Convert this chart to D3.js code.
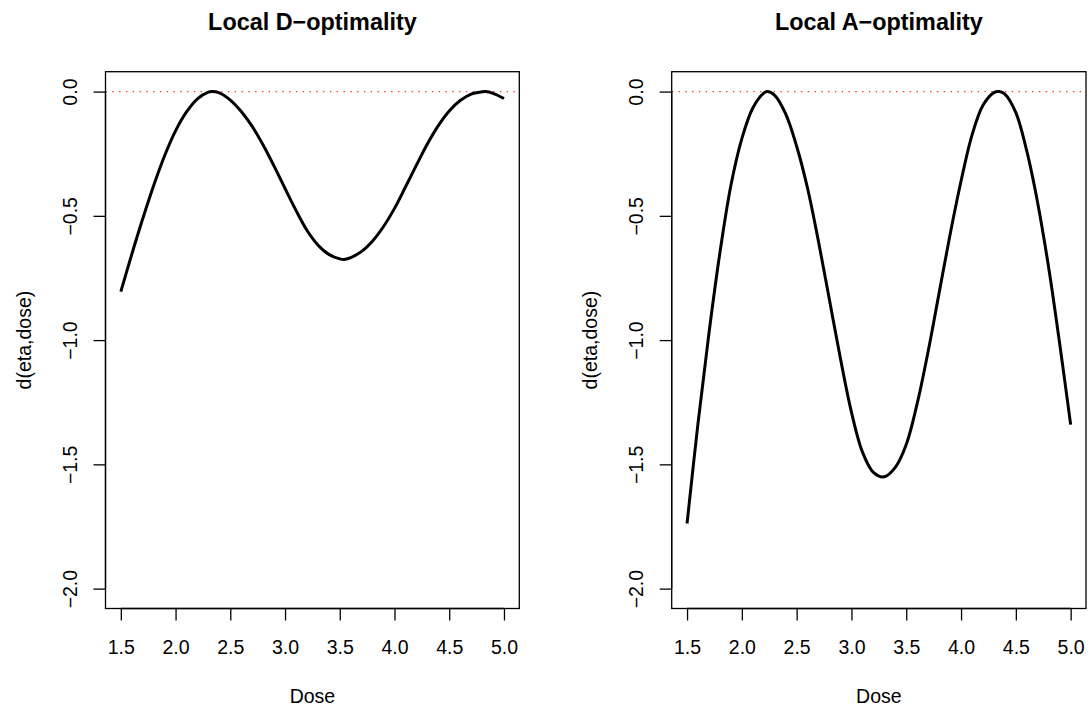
<!DOCTYPE html>
<html>
<head>
<meta charset="utf-8">
<script src="https://cdn.jsdelivr.net/npm/d3@7"></script>
<style>
  html, body { margin: 0; padding: 0; background: #fff; }
  svg { display: block; font-family: "Liberation Sans", Arial, Helvetica, sans-serif; }
</style>
</head>
<body>
<svg id="chart" width="1091" height="711"></svg>
<script>
// ---- data ----
const doseD = [1.5, 1.6, 1.7, 1.8, 1.9, 2.0, 2.1, 2.2, 2.3, 2.33, 2.4, 2.5, 2.6, 2.7, 2.8, 2.9, 3.0, 3.1, 3.2, 3.3, 3.4, 3.5, 3.55, 3.6, 3.7, 3.8, 3.9, 4.0, 4.1, 4.2, 4.3, 4.4, 4.5, 4.6, 4.7, 4.8, 4.83, 4.9, 5.0];
const valD  = [-0.805, -0.655, -0.512, -0.378, -0.258, -0.158, -0.082, -0.029, -0.002, 0, -0.005, -0.034, -0.080, -0.140, -0.215, -0.300, -0.390, -0.478, -0.558, -0.617, -0.655, -0.673, -0.675, -0.668, -0.643, -0.601, -0.543, -0.470, -0.384, -0.296, -0.211, -0.137, -0.078, -0.036, -0.010, -0.001, 0, -0.007, -0.028];

const doseA = [1.5, 1.6, 1.7, 1.8, 1.9, 2.0, 2.1, 2.2, 2.23, 2.3, 2.4, 2.5, 2.6, 2.7, 2.8, 2.9, 3.0, 3.1, 3.2, 3.3, 3.4, 3.5, 3.6, 3.7, 3.8, 3.9, 4.0, 4.1, 4.2, 4.3, 4.35, 4.4, 4.5, 4.6, 4.7, 4.8, 4.9, 5.0];
const valA  = [-1.738, -1.335, -0.972, -0.648, -0.378, -0.189, -0.066, -0.006, 0, -0.015, -0.090, -0.220, -0.390, -0.605, -0.840, -1.075, -1.290, -1.450, -1.532, -1.550, -1.512, -1.420, -1.255, -1.045, -0.810, -0.575, -0.360, -0.175, -0.055, -0.004, 0, -0.010, -0.085, -0.240, -0.450, -0.710, -1.015, -1.340];

const xTicks = [1.5, 2.0, 2.5, 3.0, 3.5, 4.0, 4.5, 5.0];
const yTicks = [0.0, -0.5, -1.0, -1.5, -2.0];
const titles = ["Local D\u2212optimality", "Local A\u2212optimality"];
const xLabel = "Dose";
const yLabel = "d(eta,dose)";
const refLine = 0;

// ---- layout ----
const svg = d3.select("#chart");
const panels = [
  { x0: 105.5, x1: 519.3, dose: doseD, val: valD, title: titles[0] },
  { x0: 671.7, x1: 1086,  dose: doseA, val: valA, title: titles[1] }
];
const yTop = 71.7, yBot = 608.5;
const fmt = v => (v < 0 ? "\u2212" : "") + Math.abs(v).toFixed(1);

panels.forEach(p => {
  const x = d3.scaleLinear().domain([1.36, 5.14]).range([p.x0, p.x1]);
  const y = d3.scaleLinear().domain([-2.08, 0.08]).range([yBot, yTop]);
  const g = svg.append("g");

  // reference line
  g.append("line")
    .attr("x1", p.x0).attr("x2", p.x1)
    .attr("y1", y(refLine)).attr("y2", y(refLine))
    .attr("stroke", "#ff3030").attr("stroke-width", 1.4)
    .attr("stroke-dasharray", "1.4,5.4");

  // curve
  const pts = p.dose.map((d, i) => [d, p.val[i]]);
  g.append("path")
    .datum(pts)
    .attr("fill", "none")
    .attr("stroke", "#000")
    .attr("stroke-width", 3)
    .attr("stroke-linejoin", "round")
    .attr("d", d3.line().x(d => x(d[0])).y(d => y(d[1])).curve(d3.curveCatmullRom.alpha(0.5)));

  // box
  g.append("rect")
    .attr("x", p.x0).attr("y", yTop)
    .attr("width", p.x1 - p.x0).attr("height", yBot - yTop)
    .attr("fill", "none").attr("stroke", "#000").attr("stroke-width", 1.3);

  // x axis
  const xa = g.append("g").attr("transform", `translate(0,${yBot})`)
    .call(d3.axisBottom(x).tickValues(xTicks).tickSize(12).tickPadding(0).tickFormat(d => d.toFixed(1)));
  xa.select(".domain").attr("d", `M${x(xTicks[0])},0H${x(xTicks[xTicks.length-1])}`)
    .attr("stroke", "#000").attr("stroke-width", 1.3);
  xa.selectAll(".tick line").attr("stroke", "#000").attr("stroke-width", 1.3);
  xa.selectAll(".tick text").attr("font-size", 19.5).attr("fill", "#000")
    .attr("font-family", "Liberation Sans, Arial, sans-serif")
    .attr("dy", null).attr("y", 45);

  // y axis
  const ya = g.append("g").attr("transform", `translate(${p.x0},0)`)
    .call(d3.axisLeft(y).tickValues(yTicks).tickSize(12).tickFormat(fmt));
  ya.select(".domain").attr("d", `M0,${y(yTicks[yTicks.length-1])}V${y(yTicks[0])}`)
    .attr("stroke", "#000").attr("stroke-width", 1.3);
  ya.selectAll(".tick line").attr("stroke", "#000").attr("stroke-width", 1.3);
  ya.selectAll(".tick text").attr("font-size", 19.5).attr("fill", "#000")
    .attr("font-family", "Liberation Sans, Arial, sans-serif")
    .attr("x", null).attr("dy", null)
    .attr("text-anchor", "middle")
    .attr("transform", "translate(-28.5,0) rotate(-90)");

  // titles and labels
  const cx = (p.x0 + p.x1) / 2;
  svg.append("text").attr("x", cx).attr("y", 30)
    .attr("text-anchor", "middle").attr("font-weight", "bold")
    .attr("font-size", 23.4).text(p.title);
  svg.append("text").attr("x", cx).attr("y", 703)
    .attr("text-anchor", "middle").attr("font-size", 19.5).text(xLabel);
  svg.append("text")
    .attr("transform", `translate(${p.x0 - 74.5},${(yTop + yBot) / 2}) rotate(-90)`)
    .attr("text-anchor", "middle").attr("font-size", 19.5).text(yLabel);
});
</script>
</body>
</html>
